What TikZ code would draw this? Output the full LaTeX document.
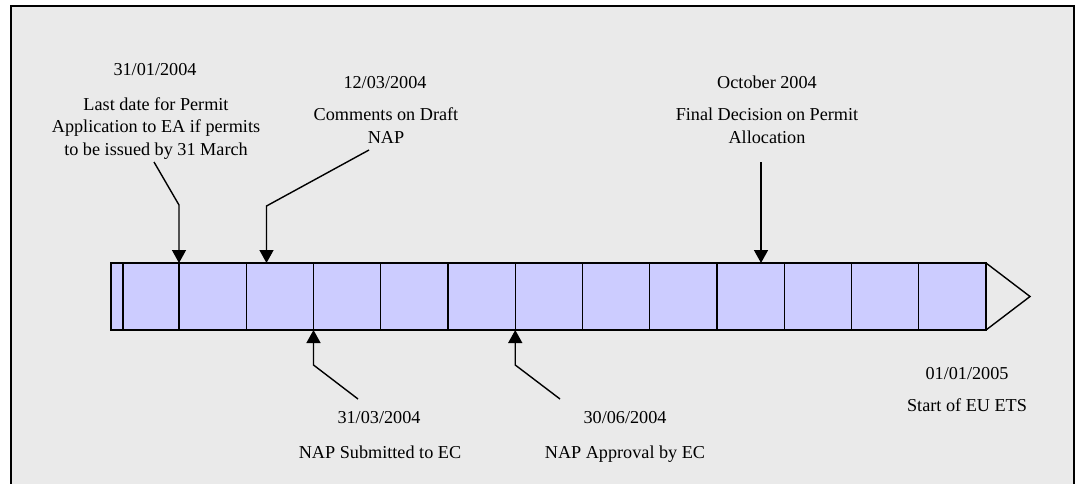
\documentclass[tikz,border=0pt]{standalone}
\usepackage{fontspec}
\setmainfont{Liberation Serif}
\usetikzlibrary{arrows.meta}
\definecolor{bg}{HTML}{EAEAEA}
\definecolor{cell}{HTML}{CCCCFF}
\begin{document}
\begin{tikzpicture}[x=1pt,y=-1pt,
  lbl/.style={font=\fontsize{18.2}{22.5}\selectfont, inner sep=0pt, align=center, anchor=base},
  arr/.style={line width=1.4pt, -{Triangle[length=13pt,width=14pt]}},
  barline/.style={line width=1.4pt}]
\useasboundingbox (0,0) rectangle (1076,483);
\fill[white] (0,0) rectangle (1076,483);
\path[fill=bg, draw=black, line width=2pt] (11,6) rectangle (1074,500);
% timeline bar
\path[fill=cell, draw=black, barline] (111,263) rectangle (986,330);
\draw[barline] (123,263) -- (123,330);
\foreach \k in {0,...,11} {
  \draw[barline] ({179+67.25*\k},263) -- ({179+67.25*\k},330);
}
\draw[barline, line join=miter] (986,263) -- (1030,296.5) -- (986,330);
% labels (base anchor = baseline of the last line)
\node[lbl] (d1) at (155,75) {31/01/2004};
\node[lbl] (t1) at (156,155) {Last date for Permit\\Application to EA if permits\\to be issued by 31 March};
\node[lbl] (d2) at (385,88) {12/03/2004};
\node[lbl] (t2) at (386,143) {Comments on Draft\\NAP};
\node[lbl] (d3) at (767,88) {October 2004};
\node[lbl] (t3) at (767,143) {Final Decision on Permit\\Allocation};
\node[lbl] (d4) at (379,423) {31/03/2004};
\node[lbl] (t4) at (380,458) {NAP Submitted to EC};
\node[lbl] (d5) at (625,423) {30/06/2004};
\node[lbl] (t5) at (625,458) {NAP Approval by EC};
\node[lbl] (d6) at (967,379) {01/01/2005};
\node[lbl] (t6) at (967,411) {Start of EU ETS};
% connector coordinates
\coordinate (a1s) at (154,162); \coordinate (a1b) at (179,205); \coordinate (a1e) at (179,263);
\coordinate (a2s) at (369,150); \coordinate (a2b) at (266.5,206); \coordinate (a2e) at (266.5,263);
\coordinate (a3s) at (358,399); \coordinate (a3b) at (313.5,365); \coordinate (a3e) at (313.5,330);
\coordinate (a4s) at (560,399); \coordinate (a4b) at (515.25,365); \coordinate (a4e) at (515.25,330);
\coordinate (a5s) at (761,162); \coordinate (a5e) at (761,263);
\draw[arr] (a1s) -- (a1b) -- (a1e);
\draw[arr] (a2s) -- (a2b) -- (a2e);
\draw[arr] (a3s) -- (a3b) -- (a3e);
\draw[arr] (a4s) -- (a4b) -- (a4e);
\draw[arr] (a5s) -- (a5e);
\end{tikzpicture}
\end{document}
